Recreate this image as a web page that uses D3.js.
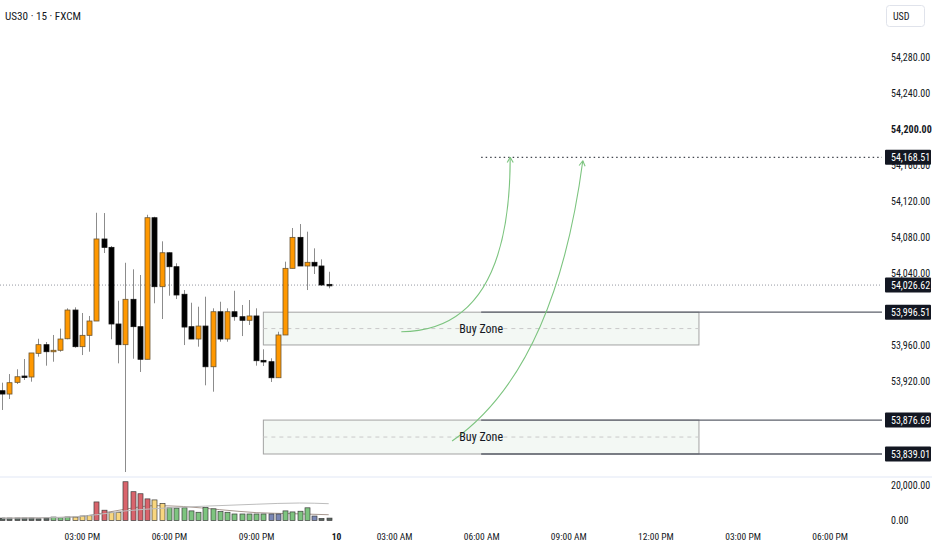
<!DOCTYPE html>
<html><head><meta charset="utf-8">
<script src="https://cdn.jsdelivr.net/npm/d3@7"></script>
<style>
html,body{margin:0;padding:0;background:#fff;}
svg{display:block;}
text{font-family:"Roboto Condensed",Roboto,sans-serif;fill:#131722;}
</style></head><body>
<svg id="c" width="932" height="550"></svg>
<script>
// ---------------- DATA ----------------
const title = "US30 · 15 · FXCM";
const currency = "USD";
const opens = [53909.3,53905.6,53918.6,53925.6,53924.5,53950.8,53960.4,53952.6,53954.2,53967.0,
  53998.9,53958.2,53970.8,53986.7,54077.8,54068.5,53983.4,53960.4,54010.8,53980.4,
  53944.2,54101.4,54024.8,54062.5,54047.0,54016.4,53980.4,53966.7,53981.1,53935.9,
  53997.0,53966.7,53997.0,53991.5,53987.5,53992.3,53943.0,53941.5,53923.7,53971.2,
  54045.2,54079.6,54047.8,54051.9,54047.8,54027.4];
const highs = [53918.2,53927.8,53933.1,53944.5,53951.2,53967.0,53963.4,53971.2,53978.2,54000.8,
  54001.9,53995.6,53992.3,54106.9,54106.6,54070.0,54009.2,54051.4,54044.1,54037.8,
  54104.7,54102.5,54075.2,54063.0,54050.8,54021.1,54007.0,54002.6,54013.7,54000.8,
  54008.1,54000.8,54020.3,54004.5,54010.0,54000.8,53955.3,53945.3,53974.8,54052.6,
  54090.0,54094.4,54085.9,54067.4,54055.2,54041.4];
const lows = [53887.9,53900.1,53916.7,53921.2,53919.3,53947.1,53937.1,53941.5,53952.6,53966.4,
  53957.0,53948.9,53952.6,53986.7,54062.2,53966.4,53939.7,53819.0,53944.8,53930.1,
  53944.2,54006.4,53988.9,54014.8,54011.1,53960.0,53966.7,53958.2,53915.3,53908.2,
  53963.7,53963.7,53987.0,53970.0,53982.3,53937.1,53936.7,53919.0,53923.7,53971.2,
  54045.2,54047.8,54021.1,54038.9,54025.6,54023.0];
const closes = [53905.6,53918.2,53924.8,53924.8,53951.2,53960.4,53952.6,53954.2,53966.7,53998.9,
  53958.2,53970.8,53986.7,54077.8,54068.5,53983.4,53960.4,54010.8,53980.4,53944.2,
  54101.4,54024.8,54062.5,54047.0,54015.6,53980.0,53966.7,53981.1,53935.9,53997.0,
  53966.7,53997.0,53991.5,53987.5,53992.3,53942.6,53941.2,53923.7,53971.2,54045.2,
  54079.6,54047.8,54051.9,54047.8,54026.7,54026.62];
const volumes = [1370,1370,1370,1370,1370,980,1370,1960,1570,1960,
  1960,2550,2740,10600,5880,4700,4700,22150,16460,15290,
  12350,11760,9800,7250,7060,7250,5490,4700,7450,6670,
  5100,4700,3720,3720,3720,3720,3720,3720,3720,5490,
  4900,5290,7250,2550,1180,1370];
const volumeGroups = ["dk","dk","dk","dk","dk","dk","dk","gr","gr","gr",
  "ye","ye","ye","rd","rd","ye","ye","rd","rd","rd",
  "rd","ye","ye","gr","gr","gr","gr","gr","gr","gr",
  "gr","gr","gr","gr","gr","gr","gr","bl","bl","gr",
  "gr","gr","gr","bl","dk","dk"];
// volume moving averages: [bar index, value]
const volMaLong = [[0,1300],[8,1700],[13,3300],[17,5500],[22,7000],[28,8200],[35,9300],[41,10000],[45,9600]];
const volMaShort = [[0,1300],[10,2000],[13,3600],[17,6500],[21,8500],[25,8000],[30,6200],[35,4500],[40,3900],[45,3300]];

const priceTicks = [54280,54240,54200,54160,54120,54080,54040,53960,53920];
const volumeTicks = [20000,0];
const timeTicks = [[11,"03:00 PM"],[23,"06:00 PM"],[35,"09:00 PM"],[46,"10"],[54,"03:00 AM"],
  [66,"06:00 AM"],[78,"09:00 AM"],[90,"12:00 PM"],[102,"03:00 PM"],[114,"06:00 PM"]];

const lastPrice = 54026.62;
const targetPrice = 54168.51;
const targetFromBar = 66;
// buy zones: [top, bottom, fromBar, toBar]
const zoneTops = [53996.51, 53876.69];
const zoneBottoms = [53960.1, 53839.01];
const zoneFrom = [36, 36];
const zoneTo = [96, 96];
const zoneLabels = ["Buy Zone","Buy Zone"];
const zoneLabelBar = 66;
// horizontal rays with axis labels
const rayPrices = [53996.51, 53876.69, 53839.01];
const rayFromBar = 66;
// curved arrows: start, control, end as [bar, price]
const arrows = [
  [[55,53974.8],[70,53975.6],[70,54168.5]],
  [[62,53853.4],[76.2,53933.4],[80,54164.7]]
];

// ---------------- LAYOUT ----------------
const W = 932, H = 550;
const axisX = 882;
const mainBottom = 476;
const svg = d3.select("#c");

const x = d3.scaleLinear().domain([0, 45]).range([2, 328.7]);
const y = d3.scaleLinear().domain([53839.01, 54168.51]).range([454, 157.3]);
const yv = d3.scaleLinear().domain([0, 20000]).range([520.5, 485.5]);

const volFill = {dk:"#56635d", gr:"#7dc47f", ye:"#f8d67f", rd:"#d9646c", bl:"#7a87b5"};

svg.append("defs").append("clipPath").attr("id","pc")
  .append("rect").attr("x",0).attr("y",0).attr("width",axisX).attr("height",mainBottom);

// pane separator
svg.append("rect").attr("x",0).attr("y",mainBottom).attr("width",W).attr("height",2).attr("fill","#f0f3fa");

const main = svg.append("g").attr("clip-path","url(#pc)");

// current price dotted line
main.append("line").attr("x1",0).attr("x2",axisX).attr("y1",y(lastPrice)).attr("y2",y(lastPrice))
  .attr("stroke","#9598a1").attr("stroke-width",1).attr("stroke-dasharray","1,2");

// zones
zoneTops.forEach((t,i)=>{
  const g = main.append("g");
  g.append("rect").attr("x",x(zoneFrom[i])).attr("y",y(t))
    .attr("width",x(zoneTo[i])-x(zoneFrom[i])).attr("height",y(zoneBottoms[i])-y(t))
    .attr("fill","#f3f8f4").attr("stroke","#a3a3a3").attr("stroke-width",1);
  const mid = (t+zoneBottoms[i])/2;
  g.append("line").attr("x1",x(zoneFrom[i])).attr("x2",x(zoneTo[i])).attr("y1",y(mid)).attr("y2",y(mid))
    .attr("stroke","#c9c9c9").attr("stroke-dasharray","4,4");
});

// target dotted line
main.append("line").attr("x1",x(targetFromBar)).attr("x2",axisX).attr("y1",y(targetPrice)).attr("y2",y(targetPrice))
  .attr("stroke","#131722").attr("stroke-width",1).attr("stroke-dasharray","1.5,3");

// rays
rayPrices.forEach(p=>{
  main.append("line").attr("x1",x(rayFromBar)).attr("x2",axisX).attr("y1",y(p)).attr("y2",y(p))
    .attr("stroke","#5d606b").attr("stroke-width",1.3);
});

// candles
const idx = d3.range(opens.length);
const bw = 5;
main.selectAll(".wick").data(idx).join("line")
  .attr("x1",i=>Math.round(x(i))+0.5).attr("x2",i=>Math.round(x(i))+0.5)
  .attr("y1",i=>y(highs[i])).attr("y2",i=>y(lows[i]))
  .attr("stroke","#8c8c8c").attr("stroke-width",1);
main.selectAll(".body").data(idx).join("rect")
  .attr("x",i=>Math.round(x(i))-2)
  .attr("y",i=>y(Math.max(opens[i],closes[i])))
  .attr("width",bw)
  .attr("height",i=>Math.max(1.5, Math.abs(y(opens[i])-y(closes[i]))))
  .attr("fill",i=>closes[i]>=opens[i]?"#ff9800":"#000000")
  .attr("stroke",i=>closes[i]>=opens[i]?"#6b5632":"#111111")
  .attr("stroke-width",0.8);

// arrows
const arrowG = main.append("g");
arrows.forEach(a=>{
  const p0=[x(a[0][0]),y(a[0][1])], c=[x(a[1][0]),y(a[1][1])], p1=[x(a[2][0]),y(a[2][1])];
  const path = d3.path();
  path.moveTo(p0[0],p0[1]);
  path.quadraticCurveTo(c[0],c[1],p1[0],p1[1]);
  arrowG.append("path").attr("d",path.toString()).attr("fill","none")
    .attr("stroke","#7cc47f").attr("stroke-width",1.1);
  const ang = Math.atan2(p1[1]-c[1], p1[0]-c[0]);
  const L = 6, spread = Math.PI/6;
  [ang+Math.PI-spread, ang+Math.PI+spread].forEach(b=>{
    arrowG.append("line").attr("x1",p1[0]).attr("y1",p1[1])
      .attr("x2",p1[0]+L*Math.cos(b)).attr("y2",p1[1]+L*Math.sin(b))
      .attr("stroke","#7cc47f").attr("stroke-width",1.1);
  });
});

// zone labels
zoneTops.forEach((t,i)=>{
  const mid = (t+zoneBottoms[i])/2;
  main.append("text").attr("x",x(zoneLabelBar)).attr("y",y(mid)).attr("dy","0.35em")
    .attr("text-anchor","middle").attr("font-size",12).text(zoneLabels[i]);
});

// volume MAs
const vline = d3.line().x(d=>x(d[0])).y(d=>yv(d[1])).curve(d3.curveMonotoneX);
svg.append("path").attr("d",vline(volMaShort)).attr("fill","none").attr("stroke","#a89890").attr("stroke-width",1);
svg.append("g").selectAll("rect").data(idx).join("rect")
  .attr("x",i=>Math.round(x(i))-2)
  .attr("y",i=>yv(volumes[i]))
  .attr("width",bw)
  .attr("height",i=>yv(0)-yv(volumes[i]))
  .attr("fill",i=>volFill[volumeGroups[i]])
  .attr("stroke","#3d3d3d").attr("stroke-width",0.7);
svg.append("path").attr("d",vline(volMaLong)).attr("fill","none").attr("stroke","#bdbdbd").attr("stroke-width",1);

// ---------------- AXES ----------------
const pAxis = svg.append("g").attr("transform",`translate(${axisX},0)`)
  .call(d3.axisRight(y).tickValues(priceTicks).tickFormat(d3.format(",.2f")).tickSize(0).tickPadding(9));
pAxis.select(".domain").remove();
pAxis.selectAll("text").attr("font-size",10).attr("fill","#131722")
  .attr("font-family","'Roboto Condensed',Roboto,sans-serif")
  .attr("font-weight",d=>d===54200?"bold":"normal");

const vAxis = svg.append("g").attr("transform",`translate(${axisX},0)`)
  .call(d3.axisRight(yv).tickValues(volumeTicks).tickFormat(d3.format(",.2f")).tickSize(0).tickPadding(9));
vAxis.select(".domain").remove();
vAxis.selectAll("text").attr("font-size",10).attr("fill","#131722")
  .attr("font-family","'Roboto Condensed',Roboto,sans-serif");

const tAxis = svg.append("g").attr("transform",`translate(0,530)`)
  .call(d3.axisBottom(x).tickValues(timeTicks.map(d=>d[0]))
    .tickFormat(d=>timeTicks.find(t=>t[0]===d)[1]).tickSize(0).tickPadding(3));
tAxis.select(".domain").remove();
tAxis.selectAll("text").attr("font-size",9.5).attr("fill","#131722")
  .attr("font-family","'Roboto Condensed',Roboto,sans-serif")
  .attr("font-weight",d=>d===46?"bold":"normal");

// price labels (boxes)
const boxPrices = [targetPrice, lastPrice].concat(rayPrices);
const lab = svg.append("g");
boxPrices.forEach(p=>{
  lab.append("rect").attr("x",axisX+3).attr("y",y(p)-7.5).attr("width",46).attr("height",15)
    .attr("rx",1).attr("fill","#131722");
  lab.append("text").attr("x",axisX+9).attr("y",y(p)).attr("dy","0.35em")
    .attr("font-size",10).style("fill","#ffffff").text(d3.format(",.2f")(p));
});

// currency box
svg.append("rect").attr("x",886.5).attr("y",5.5).attr("width",38).attr("height",21).attr("rx",3)
  .attr("fill","#fff").attr("stroke","#e0e3eb");
svg.append("text").attr("x",893).attr("y",16).attr("dy","0.35em").attr("font-size",10).text(currency);

// title
svg.append("text").attr("x",5).attr("y",16).attr("dy","0.35em").attr("font-size",11.5)
  .attr("font-family","Roboto,sans-serif").attr("textLength",76).attr("lengthAdjust","spacingAndGlyphs").text(title);
</script>
</body></html>
